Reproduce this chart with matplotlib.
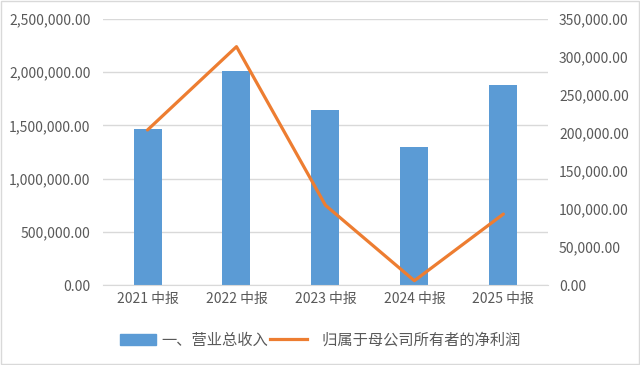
import matplotlib.pyplot as plt
from matplotlib.patches import Patch, Rectangle
from matplotlib.lines import Line2D
from matplotlib.ticker import FuncFormatter
import numpy as np

plt.rcParams['font.family'] = ['Noto Sans CJK SC', 'DejaVu Sans']

# Data
periods = ["2021 中报", "2022 中报", "2023 中报", "2024 中报", "2025 中报"]
revenue = [1469000, 2008000, 1645000, 1297000, 1880000]
net_profit = [204000, 313600, 105000, 5700, 93400]
bar_label = "一、营业总收入"
line_label = "   归属于母公司所有者的净利润"

BAR_C = "#5B9BD5"
LINE_C = "#ED7D31"
GRID_C = "#D9D9D9"
TEXT_C = "#595959"

fig = plt.figure(figsize=(6.4, 3.65), dpi=100)
fig.patch.set_facecolor("white")
ax = fig.add_axes([0.161, 0.219, 0.695, 0.729])
ax2 = ax.twinx()

x = np.arange(len(periods))
ax.bar(x, revenue, width=0.315, color=BAR_C, zorder=2)
ax2.plot(x, net_profit, color=LINE_C, lw=2.3, solid_capstyle='round', zorder=3)

fmt = FuncFormatter(lambda v, p: f"{v:,.2f}")
ax.set_ylim(0, 2500000)
ax.set_yticks(np.arange(0, 2500001, 500000))
ax.yaxis.set_major_formatter(fmt)
ax2.set_ylim(0, 350000)
ax2.set_yticks(np.arange(0, 350001, 50000))
ax2.yaxis.set_major_formatter(fmt)

ax.set_xlim(-0.5, 4.5)
ax.set_xticks(x)
ax.set_xticklabels(periods)

ax.grid(axis='y', color=GRID_C, lw=1, zorder=0)
ax.set_axisbelow(True)
for a in (ax, ax2):
    for s in a.spines.values():
        s.set_visible(False)
    a.tick_params(length=0, colors=TEXT_C, labelsize=10)
ax.tick_params(axis='y', pad=9)
ax2.tick_params(axis='y', pad=8)
ax.tick_params(axis='x', pad=5)
ax.spines['bottom'].set_visible(True)
ax.spines['bottom'].set_color(GRID_C)

handles = [Patch(facecolor=BAR_C, edgecolor=BAR_C),
           Line2D([0], [0], color=LINE_C, lw=2.3)]
leg = fig.legend(handles, [bar_label, line_label], loc='center', ncol=2,
                 bbox_to_anchor=(0.5, 0.068), frameon=False, fontsize=11,
                 handlelength=2.4, handletextpad=0.35, columnspacing=0.1)
for t in leg.get_texts():
    t.set_color(TEXT_C)

fig.add_artist(Rectangle((0.002, 0.003), 0.996, 0.994, transform=fig.transFigure,
                         fill=False, edgecolor=GRID_C, lw=1))

fig.savefig("out.png", dpi=100, facecolor="white")
